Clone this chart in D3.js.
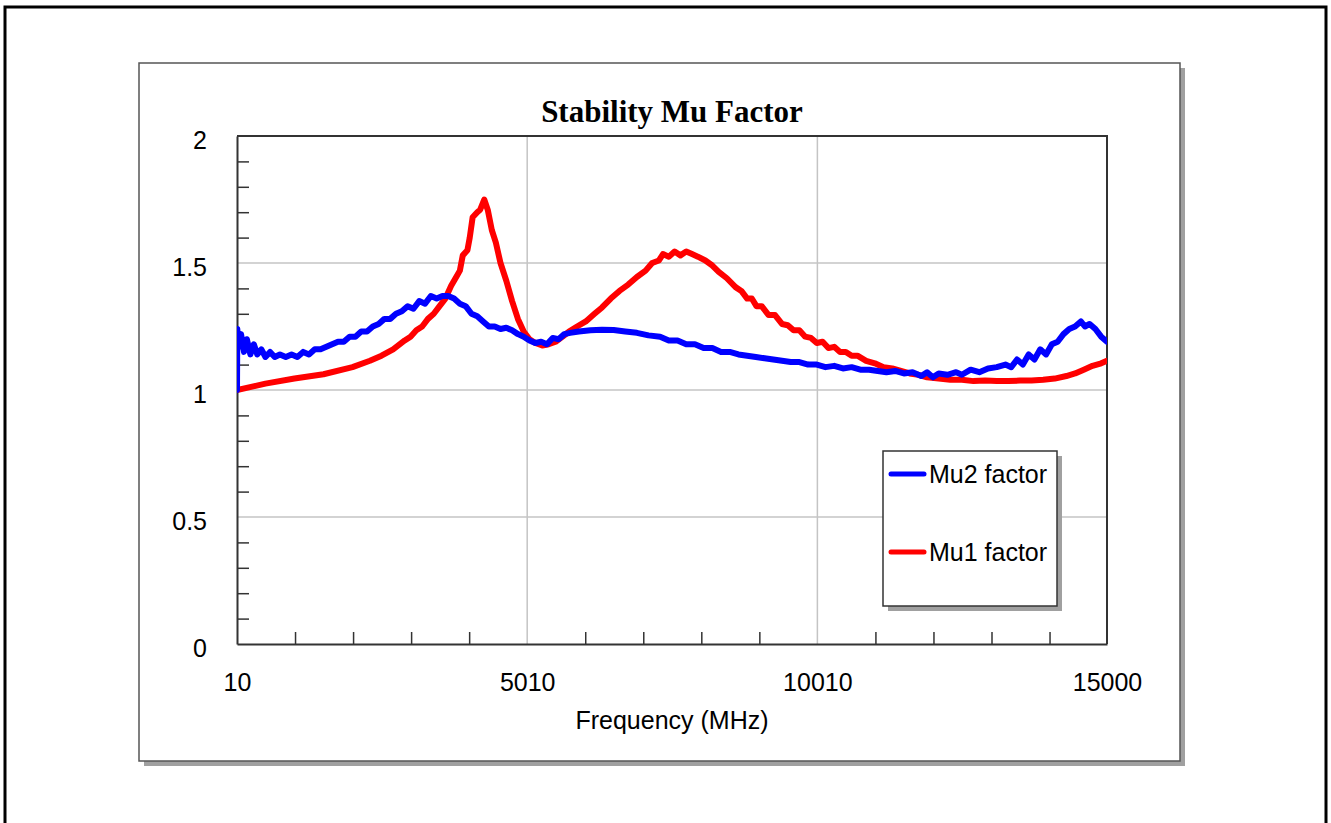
<!DOCTYPE html>
<html>
<head>
<meta charset="utf-8">
<script src="https://cdn.jsdelivr.net/npm/d3@7"></script>
<style>
  html, body { margin: 0; padding: 0; background: #fff; }
  svg { display: block; }
</style>
</head>
<body>
<svg id="chart" width="1331" height="823"></svg>
<script>
// ---- data: stability factors vs frequency (MHz) ----
const chartTitle = "Stability Mu Factor";
const xTitle = "Frequency (MHz)";
const freqTicks = [10, 5010, 10010, 15000];
const freqMinorTicks = [1010, 2010, 3010, 4010, 6010, 7010, 8010, 9010, 11010, 12010, 13010, 14010];
const muTicks = [0, 0.5, 1, 1.5, 2];
const muMinorTicks = [0.1, 0.2, 0.3, 0.4, 0.6, 0.7, 0.8, 0.9, 1.1, 1.2, 1.3, 1.4, 1.6, 1.7, 1.8, 1.9];
const seriesNames = ["Mu2 factor", "Mu1 factor"];

const mu1Freq = [10, 500, 1000, 1500, 2000, 2300, 2500, 2700, 2900, 3000, 3100, 3200, 3300, 3400, 3500, 3600,
  3700, 3800, 3850, 3900, 3980, 4020, 4070, 4150, 4200, 4270, 4330, 4400, 4470, 4550, 4650, 4750, 4850, 4950,
  5050, 5150, 5270, 5380, 5500, 5620, 5730, 5870, 6020, 6170, 6300, 6450, 6600, 6750, 6900, 7050, 7163, 7280,
  7350, 7450, 7550, 7650, 7750, 7850, 7950, 8080, 8200, 8310, 8450, 8600, 8700, 8800, 8880, 8960, 9050, 9170,
  9280, 9400, 9500, 9600, 9700, 9800, 9900, 10000, 10100, 10200, 10300, 10400, 10500, 10600, 10700, 10850,
  11000, 11150, 11300, 11450, 11600, 11750, 11900, 12100, 12300, 12500, 12700, 12900, 13100, 13300, 13500,
  13700, 13900, 14100, 14300, 14450, 14600, 14750, 14900, 15000];
const mu1 = [1.0, 1.025, 1.045, 1.062, 1.09, 1.115, 1.135, 1.16, 1.195, 1.21, 1.235, 1.25, 1.28, 1.3, 1.33, 1.36,
  1.41, 1.45, 1.47, 1.53, 1.55, 1.6, 1.68, 1.7, 1.71, 1.75, 1.71, 1.63, 1.58, 1.5, 1.43, 1.35, 1.28, 1.23,
  1.2, 1.185, 1.175, 1.18, 1.19, 1.21, 1.23, 1.25, 1.27, 1.3, 1.325, 1.36, 1.39, 1.415, 1.445, 1.47, 1.5, 1.51,
  1.535, 1.525, 1.545, 1.53, 1.545, 1.535, 1.525, 1.51, 1.49, 1.465, 1.44, 1.405, 1.39, 1.36, 1.36, 1.33, 1.33, 1.295,
  1.295, 1.26, 1.255, 1.235, 1.235, 1.21, 1.205, 1.185, 1.19, 1.165, 1.17, 1.15, 1.15, 1.135, 1.135, 1.115,
  1.105, 1.09, 1.085, 1.075, 1.065, 1.06, 1.05, 1.045, 1.04, 1.04, 1.035, 1.037, 1.035, 1.035, 1.037,
  1.037, 1.04, 1.045, 1.055, 1.065, 1.08, 1.095, 1.105, 1.115];

const mu2Freq = [10, 15, 40, 80, 130, 180, 240, 300, 360, 430, 500, 580, 660, 750, 850, 950, 1050, 1150, 1250,
  1350, 1450, 1550, 1650, 1750, 1850, 1950, 2050, 2150, 2250, 2350, 2450, 2550, 2650, 2750, 2850, 2950, 3050,
  3150, 3250, 3350, 3450, 3550, 3650, 3750, 3850, 3950, 4050, 4150, 4250, 4350, 4450, 4550, 4650, 4750, 4850,
  4950, 5050, 5150, 5250, 5350, 5450, 5550, 5650, 5750, 5900, 6100, 6300, 6500, 6700, 6900, 7100, 7300, 7450,
  7600, 7750, 7900, 8050, 8200, 8350, 8500, 8650, 8800, 8950, 9100, 9250, 9400, 9550, 9700, 9850, 10000, 10150,
  10300, 10450, 10600, 10750, 10900, 11050, 11200, 11350, 11500, 11650, 11800, 11900, 12000, 12100, 12250,
  12400, 12500, 12650, 12800, 12950, 13100, 13250, 13350, 13450, 13550, 13650, 13750, 13850, 13950, 14050,
  14150, 14250, 14350, 14450, 14550, 14620, 14700, 14800, 14900, 15000];
const mu2 = [1.0, 1.24, 1.17, 1.22, 1.15, 1.2, 1.14, 1.18, 1.14, 1.16, 1.13, 1.15, 1.13, 1.14, 1.13, 1.14, 1.13, 1.15, 1.14,
  1.16, 1.16, 1.17, 1.18, 1.19, 1.19, 1.21, 1.21, 1.23, 1.23, 1.25, 1.26, 1.28, 1.28, 1.3, 1.31, 1.33, 1.32,
  1.35, 1.34, 1.37, 1.36, 1.37, 1.37, 1.36, 1.34, 1.33, 1.3, 1.29, 1.27, 1.25, 1.25, 1.24, 1.245, 1.235, 1.22,
  1.21, 1.195, 1.185, 1.19, 1.18, 1.205, 1.2, 1.22, 1.225, 1.23, 1.235, 1.237, 1.236, 1.23, 1.225, 1.215, 1.21, 1.195,
  1.195, 1.18, 1.18, 1.165, 1.165, 1.15, 1.15, 1.14, 1.135, 1.13, 1.125, 1.12, 1.115, 1.11, 1.11, 1.1, 1.1, 1.09,
  1.095, 1.085, 1.09, 1.08, 1.08, 1.075, 1.07, 1.075, 1.065, 1.07, 1.055, 1.07, 1.05, 1.065, 1.06,
  1.07, 1.06, 1.08, 1.07, 1.085, 1.09, 1.1, 1.09, 1.12, 1.1, 1.14, 1.12, 1.16, 1.14, 1.18,
  1.19, 1.22, 1.24, 1.25, 1.27, 1.25, 1.26, 1.24, 1.21, 1.19];

// ---- layout ----
const svg = d3.select("#chart");
const plot = { left: 237, right: 1107, top: 136, bottom: 644 };
const axisColor = "#333";
const gridColor = "#c4c4c4";
const sans = "'Liberation Sans', Arial, sans-serif";
const labelSize = 25;

const x = d3.scaleLinear().domain([10, 15000]).range([plot.left, plot.right]);
const y = d3.scaleLinear().domain([0, 2]).range([plot.bottom, plot.top]);

// outer border
svg.append("rect").attr("x", 5).attr("y", 7).attr("width", 1321).attr("height", 830)
  .attr("fill", "none").attr("stroke", "#000").attr("stroke-width", 3);

// chart panel with drop shadow
svg.append("rect").attr("x", 144).attr("y", 68).attr("width", 1041).attr("height", 698).attr("fill", "#a0a0a0");
svg.append("rect").attr("x", 139).attr("y", 63).attr("width", 1041).attr("height", 698)
  .attr("fill", "#fff").attr("stroke", "#555").attr("stroke-width", 1.5);

// title
svg.append("text").attr("x", 672).attr("y", 122).attr("text-anchor", "middle")
  .attr("font-family", "'Liberation Serif', 'Times New Roman', serif").attr("font-weight", "bold")
  .attr("font-size", 31).attr("fill", "#000").text(chartTitle);

// grid lines
const grid = svg.append("g");
grid.selectAll("line.gx").data(freqTicks.slice(1, -1)).join("line")
  .attr("x1", d => x(d)).attr("x2", d => x(d)).attr("y1", plot.top).attr("y2", plot.bottom)
  .attr("stroke", gridColor).attr("stroke-width", 1.5);
grid.selectAll("line.gy").data(muTicks.slice(1, -1)).join("line")
  .attr("x1", plot.left).attr("x2", plot.right).attr("y1", d => y(d)).attr("y2", d => y(d))
  .attr("stroke", gridColor).attr("stroke-width", 1.5);

// plot frame top / right
svg.append("path")
  .attr("d", `M${plot.left},${plot.top}H${plot.right}V${plot.bottom}`)
  .attr("fill", "none").attr("stroke", axisColor).attr("stroke-width", 2);

// minor ticks, pointing into the plot
const xMinor = svg.append("g").attr("transform", `translate(0,${plot.bottom})`)
  .call(d3.axisBottom(x).tickValues(freqMinorTicks).tickSizeInner(-12).tickSizeOuter(0).tickFormat(""));
const yMinor = svg.append("g").attr("transform", `translate(${plot.left},0)`)
  .call(d3.axisLeft(y).tickValues(muMinorTicks).tickSizeInner(-12).tickSizeOuter(0).tickFormat(""));
[xMinor, yMinor].forEach(g => {
  g.select(".domain").remove();
  g.selectAll(".tick line").attr("stroke", axisColor).attr("stroke-width", 1.5);
});

// labelled axes
const xAxis = svg.append("g").attr("transform", `translate(0,${plot.bottom})`)
  .call(d3.axisBottom(x).tickValues(freqTicks).tickSize(0).tickPadding(30).tickFormat(d3.format("d")));
const yAxis = svg.append("g").attr("transform", `translate(${plot.left},0)`)
  .call(d3.axisLeft(y).tickValues(muTicks).tickSize(0).tickPadding(30).tickFormat(d => String(d)));
[xAxis, yAxis].forEach(g => {
  g.select(".domain").attr("stroke", axisColor).attr("stroke-width", 2);
  g.selectAll(".tick text").attr("font-family", sans).attr("font-size", labelSize).attr("fill", "#000");
});
yAxis.selectAll(".tick text").attr("dy", "0.5em");
xAxis.selectAll(".tick text").attr("dy", "0.68em");

// x axis title
svg.append("text").attr("x", 672).attr("y", 729).attr("text-anchor", "middle")
  .attr("font-family", sans).attr("font-size", labelSize).attr("fill", "#000").text(xTitle);

// curves
svg.append("clipPath").attr("id", "plotClip").append("rect")
  .attr("x", plot.left).attr("y", plot.top - 10).attr("width", plot.right - plot.left).attr("height", plot.bottom - plot.top + 10);

const line = d3.line().x(d => x(d[0])).y(d => y(d[1]));
const curves = svg.append("g").attr("clip-path", "url(#plotClip)");
const mu1Pts = mu1Freq.map((f, i) => [f, mu1[i]]);
const mu2Pts = mu2Freq.map((f, i) => [f, mu2[i]]);
curves.append("path").datum(mu1Pts).attr("d", line)
  .attr("fill", "none").attr("stroke", "#ff0000").attr("stroke-width", 6)
  .attr("stroke-linejoin", "round").attr("stroke-linecap", "round");
curves.append("path").datum(mu2Pts).attr("d", line)
  .attr("fill", "none").attr("stroke", "#0000ff").attr("stroke-width", 6)
  .attr("stroke-linejoin", "round").attr("stroke-linecap", "round");

// legend
const legend = svg.append("g");
legend.append("rect").attr("x", 888).attr("y", 456).attr("width", 174).attr("height", 155).attr("fill", "#a0a0a0");
legend.append("rect").attr("x", 883).attr("y", 451).attr("width", 174).attr("height", 155)
  .attr("fill", "#fff").attr("stroke", axisColor).attr("stroke-width", 1.5);
const legendColors = ["#0000ff", "#ff0000"];
const legendY = [474, 552];
seriesNames.forEach((name, i) => {
  legend.append("line").attr("x1", 891).attr("x2", 924).attr("y1", legendY[i]).attr("y2", legendY[i])
    .attr("stroke", legendColors[i]).attr("stroke-width", 5).attr("stroke-linecap", "round");
  legend.append("text").attr("x", 929).attr("y", legendY[i] + 9)
    .attr("font-family", sans).attr("font-size", labelSize).attr("fill", "#000").text(name);
});
</script>
</body>
</html>
